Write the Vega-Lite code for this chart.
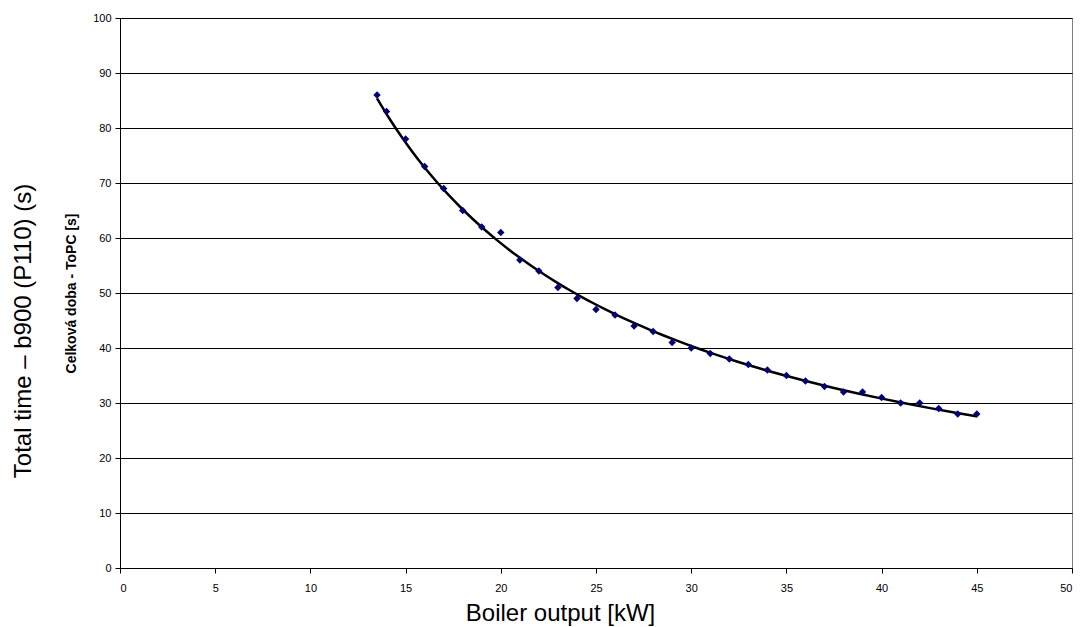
{
  "$schema": "https://vega.github.io/schema/vega-lite/v6.json",
  "width": 952,
  "height": 550,
  "autosize": {"type": "none"},
  "padding": {"left": 120, "top": 18, "right": 10, "bottom": 59},
  "background": "white",
  "title": {
    "text": "Total time – b900 (P110) (s)",
    "orient": "left",
    "anchor": "middle",
    "font": "Liberation Sans",
    "fontSize": 24,
    "fontWeight": "normal",
    "color": "black",
    "offset": 29,
    "dx": -38
  },
  "config": {
    "view": {"stroke": "#808080", "strokeWidth": 1},
    "axis": {
      "labelFont": "Liberation Sans",
      "labelFontSize": 11,
      "labelColor": "black",
      "titleFont": "Liberation Sans",
      "titleColor": "black",
      "domainColor": "black",
      "tickColor": "black",
      "tickSize": 5,
      "gridColor": "black",
      "gridOpacity": 1,
      "gridWidth": 1
    }
  },
  "data": {
    "values": [
      {"x": 13.5, "y": 86},
      {"x": 14, "y": 83},
      {"x": 15, "y": 78},
      {"x": 16, "y": 73},
      {"x": 17, "y": 69},
      {"x": 18, "y": 65},
      {"x": 19, "y": 62},
      {"x": 20, "y": 61},
      {"x": 21, "y": 56},
      {"x": 22, "y": 54},
      {"x": 23, "y": 51},
      {"x": 24, "y": 49},
      {"x": 25, "y": 47},
      {"x": 26, "y": 46},
      {"x": 27, "y": 44},
      {"x": 28, "y": 43},
      {"x": 29, "y": 41},
      {"x": 30, "y": 40},
      {"x": 31, "y": 39},
      {"x": 32, "y": 38},
      {"x": 33, "y": 37},
      {"x": 34, "y": 36},
      {"x": 35, "y": 35},
      {"x": 36, "y": 34},
      {"x": 37, "y": 33},
      {"x": 38, "y": 32},
      {"x": 39, "y": 32},
      {"x": 40, "y": 31},
      {"x": 41, "y": 30},
      {"x": 42, "y": 30},
      {"x": 43, "y": 29},
      {"x": 44, "y": 28},
      {"x": 45, "y": 28}
    ]
  },
  "encoding": {
    "x": {
      "field": "x",
      "type": "quantitative",
      "scale": {"domain": [0, 50], "nice": false, "zero": true},
      "axis": {
        "values": [0, 5, 10, 15, 20, 25, 30, 35, 40, 45, 50],
        "grid": false,
        "title": "Boiler output [kW]",
        "titleFontSize": 24,
        "titleFontWeight": "normal",
        "titlePadding": 8,
        "titleX": 440,
        "labelPadding": 9
      }
    },
    "y": {
      "field": "y",
      "type": "quantitative",
      "scale": {"domain": [0, 100], "nice": false},
      "axis": {
        "values": [0, 10, 20, 30, 40, 50, 60, 70, 80, 90, 100],
        "grid": true,
        "title": "Celková doba - ToPC [s]",
        "titleFontSize": 14,
        "titleFontWeight": "bold",
        "titlePadding": 14,
        "labelPadding": 4
      }
    }
  },
  "layer": [
    {
      "transform": [
        {"regression": "y", "on": "x", "method": "pow", "extent": [13.5, 45]}
      ],
      "mark": {"type": "line", "color": "black", "strokeWidth": 2.5, "interpolate": "monotone"}
    },
    {
      "mark": {"type": "point", "shape": "diamond", "filled": true, "color": "#000080", "size": 55, "opacity": 1}
    }
  ]
}
